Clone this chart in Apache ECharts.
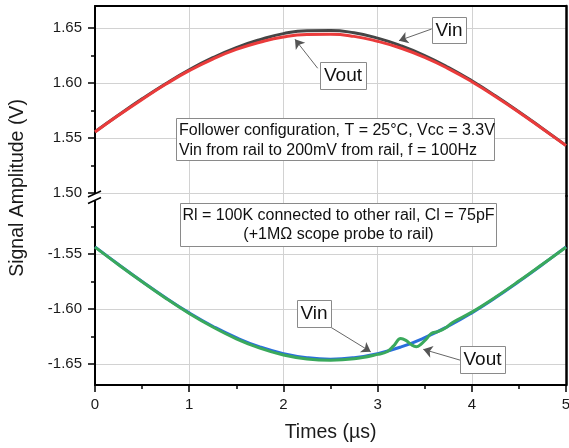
<!DOCTYPE html>
<html><head><meta charset="utf-8">
<script src="https://cdn.jsdelivr.net/npm/echarts@6/dist/echarts.min.js"></script>
<style>html,body{margin:0;padding:0;background:#fff}#c{width:569px;height:448px}</style>
</head><body><div id="c"></div>
<script>
// ---- data ----
const times = [0,0.25,0.5,0.75,1,1.25,1.5,1.75,2,2.25,2.5,2.75,3,3.25,3.5,3.75,4,4.25,4.5,4.75,5];
const upperVin  = [1.5557,1.5709,1.5856,1.5994,1.6120,1.6230,1.6322,1.6394,1.6449,1.6476,1.6478,1.6456,1.6408,1.6338,1.6250,1.6143,1.6020,1.5884,1.5739,1.5587,1.5433];
const upperVout = [1.5554,1.5706,1.5851,1.5988,1.6112,1.6218,1.6305,1.6371,1.6419,1.6441,1.6443,1.6424,1.6379,1.6316,1.6233,1.6131,1.6012,1.5878,1.5735,1.5584,1.5431];
const lowerVin  = [-1.5435,-1.5595,-1.5750,-1.5898,-1.6035,-1.6156,-1.6260,-1.6344,-1.6405,-1.6442,-1.6455,-1.6442,-1.6405,-1.6344,-1.6260,-1.6156,-1.6035,-1.5898,-1.5750,-1.5595,-1.5435];
const lowerVoutTimes = [0,0.25,0.5,0.75,1,1.25,1.5,1.75,2,2.25,2.5,2.75,3,3.1,3.17,3.245,3.3,3.36,3.41,3.46,3.52,3.57,3.64,3.72,3.8,4,4.25,4.5,4.75,5];
const lowerVout = [-1.5437,-1.5597,-1.5752,-1.5901,-1.6040,-1.6163,-1.6270,-1.6355,-1.6417,-1.6453,-1.6465,-1.6452,-1.6412,-1.6388,-1.6335,-1.6268,-1.6285,-1.6325,-1.6342,-1.6320,-1.6270,-1.6222,-1.6205,-1.6172,-1.6120,-1.6028,-1.5893,-1.5746,-1.5593,-1.5438];

const xTickValues = [0,1,2,3,4,5];
const upperYTicks = [1.50,1.55,1.60,1.65];
const upperYMinor = [1.525,1.575,1.625];
const lowerYTicks = [-1.65,-1.60,-1.55];
const lowerYMinor = [-1.625,-1.575,-1.525];
const upperRange = [1.4973, 1.67];
const lowerRange = [-1.669, -1.4973];

// annotation arrows: [startT, startV, tipT, tipV]
const arrowUpperVin  = [3.574, 1.6491, 3.227, 1.6385];
const arrowUpperVout = [2.364, 1.6134, 2.123, 1.6397];
const arrowLowerVin  = [2.495, -1.6161, 2.927, -1.6388];
const arrowLowerVout = [3.875, -1.6464, 3.485, -1.6366];

const infoLines1 = ['Follower configuration, T = 25°C, Vcc = 3.3V', 'Vin from rail to 200mV from rail, f = 100Hz'];
const infoLines2 = ['Rl = 100K connected to other rail, Cl = 75pF', '(+1MΩ scope probe to rail)'];

// ---- chart ----
const FONT = '"Liberation Sans", Arial, sans-serif';
const GRID_C = '#d2d2d2';
const chart = echarts.init(document.getElementById('c'), null, {renderer:'canvas'});

function arrowLine(a){
  return {
    silent:true, animation:false, symbol:['none','arrow'], symbolSize:9,
    label:{show:false},
    lineStyle:{color:'#555', width:0.9, type:'solid'},
    itemStyle:{color:'#111'},
    emphasis:{disabled:true},
    data:[[{coord:[a[0],a[1]]},{coord:[a[2],a[3]]}]]
  };
}
function mainY(grid, range, ticks){
  return {
    type:'value', gridIndex:grid, position:'left', min:range[0], max:range[1],
    axisLine:{show:true, onZero:false, lineStyle:{color:'#000', width:2}},
    axisTick:{show:true, length:7, customValues:ticks, lineStyle:{color:'#000', width:1.5}},
    axisLabel:{show:true, customValues:ticks, margin:13, fontSize:15, fontFamily:FONT, color:'#1a1a1a',
      formatter:v=>v.toFixed(2)},
    splitLine:{show:true, lineStyle:{color:GRID_C, width:1}}
  };
}
function minorY(grid, range, ticks){
  return {
    type:'value', gridIndex:grid, position:'left', min:range[0], max:range[1],
    axisLine:{show:false}, axisLabel:{show:false}, splitLine:{show:false},
    axisTick:{show:true, length:4, customValues:ticks, lineStyle:{color:'#000', width:1.5}}
  };
}
function rightY(grid, range){
  return {
    type:'value', gridIndex:grid, position:'right', min:range[0], max:range[1],
    axisLine:{show:true, onZero:false, lineStyle:{color:'#000', width:2.5}},
    axisTick:{show:false}, axisLabel:{show:false}, splitLine:{show:false}
  };
}
function boxText(x, y, w, h, text, size){
  return [
    {type:'rect', z:50, shape:{x:x+0.5, y:y+0.5, width:w, height:h}, style:{fill:'#fff', stroke:'#8a8a8a', lineWidth:1}},
    {type:'text', z:51, x:x+w/2, y:y+h/2+0.5, style:{text:text, fontSize:size, fontFamily:FONT, fill:'#111', align:'center', verticalAlign:'middle'}}
  ];
}

const option = {
  animation:false,
  backgroundColor:'#fff',
  grid:[
    {left:95, right:3, top:6, height:190, outerBoundsMode:'none', containLabel:false},
    {left:95, right:3, top:196, height:189, outerBoundsMode:'none', containLabel:false}
  ],
  xAxis:[
    {type:'value', gridIndex:0, position:'top', min:0, max:5, interval:1,
     axisLine:{show:true, onZero:false, lineStyle:{color:'#000', width:2}},
     axisTick:{show:false}, axisLabel:{show:false},
     splitLine:{show:true, lineStyle:{color:GRID_C, width:1}}},
    {type:'value', gridIndex:1, position:'bottom', min:0, max:5, interval:1,
     axisLine:{show:true, onZero:false, lineStyle:{color:'#000', width:2}},
     axisTick:{show:true, length:7, lineStyle:{color:'#000', width:1.5}},
     minorTick:{show:true, splitNumber:2, length:4, lineStyle:{color:'#000', width:1.5}},
     axisLabel:{show:true, margin:12, fontSize:15, fontFamily:FONT, color:'#1a1a1a'},
     splitLine:{show:true, lineStyle:{color:GRID_C, width:1}},
     name:'Times (µs)', nameLocation:'middle', nameGap:38,
     nameTextStyle:{fontSize:19.5, fontFamily:FONT, color:'#1a1a1a'}}
  ],
  yAxis:[
    mainY(0, upperRange, upperYTicks),
    minorY(0, upperRange, upperYMinor),
    rightY(0, upperRange),
    mainY(1, lowerRange, lowerYTicks),
    minorY(1, lowerRange, lowerYMinor),
    rightY(1, lowerRange)
  ],
  series:[
    {name:'Vin', type:'line', xAxisIndex:0, yAxisIndex:0, showSymbol:false, smooth:true,
     lineStyle:{color:'#454545', width:3}, itemStyle:{color:'#454545'},
     data:times.map((t,i)=>[t, upperVin[i]]), markLine:arrowLine(arrowUpperVin), z:2},
    {name:'Vout', type:'line', xAxisIndex:0, yAxisIndex:0, showSymbol:false, smooth:true,
     lineStyle:{color:'#ea3b3b', width:3}, itemStyle:{color:'#ea3b3b'},
     data:times.map((t,i)=>[t, upperVout[i]]), markLine:arrowLine(arrowUpperVout), z:3},
    {name:'Vin', type:'line', xAxisIndex:1, yAxisIndex:3, showSymbol:false, smooth:true,
     lineStyle:{color:'#2a6fdc', width:3}, itemStyle:{color:'#2a6fdc'},
     data:times.map((t,i)=>[t, lowerVin[i]]), markLine:arrowLine(arrowLowerVin), z:2},
    {name:'Vout', type:'line', xAxisIndex:1, yAxisIndex:3, showSymbol:false, smooth:0.4,
     lineStyle:{color:'#3aa95c', width:3}, itemStyle:{color:'#3aa95c'},
     data:lowerVoutTimes.map((t,i)=>[t, lowerVout[i]]), markLine:arrowLine(arrowLowerVout), z:3}
  ],
  graphic:[
    // axis break on the left axis
    {type:'rect', z:60, shape:{x:92, y:194, width:6, height:6.5}, style:{fill:'#fff'}},
    {type:'line', z:61, shape:{x1:88, y1:197, x2:101, y2:191}, style:{stroke:'#000', lineWidth:1.5}},
    {type:'line', z:61, shape:{x1:88, y1:203.5, x2:101, y2:197.5}, style:{stroke:'#000', lineWidth:1.5}},
    // y title
    {type:'text', z:61, x:18, y:188, rotation:Math.PI/2,
     style:{text:'Signal Amplitude (V)', fontSize:19.5, fontFamily:FONT, fill:'#1a1a1a', align:'center', verticalAlign:'middle'}},
    // info boxes
    {type:'rect', z:50, shape:{x:176.5, y:118.5, width:318, height:42}, style:{fill:'#fff', stroke:'#8a8a8a', lineWidth:1}},
    {type:'text', z:51, x:179, y:131, style:{text:infoLines1[0], fontSize:16, fontFamily:FONT, fill:'#111', align:'left', verticalAlign:'middle'}},
    {type:'text', z:51, x:179, y:150.5, style:{text:infoLines1[1], fontSize:16, fontFamily:FONT, fill:'#111', align:'left', verticalAlign:'middle'}},
    {type:'rect', z:50, shape:{x:180.5, y:203.5, width:316, height:43}, style:{fill:'#fff', stroke:'#8a8a8a', lineWidth:1}},
    {type:'text', z:51, x:338.5, y:215.5, style:{text:infoLines2[0], fontSize:16, fontFamily:FONT, fill:'#111', align:'center', verticalAlign:'middle'}},
    {type:'text', z:51, x:338.5, y:235, style:{text:infoLines2[1], fontSize:16, fontFamily:FONT, fill:'#111', align:'center', verticalAlign:'middle'}},
    ...boxText(432, 17, 34, 26, 'Vin', 19),
    ...boxText(320, 62, 46, 27, 'Vout', 19),
    ...boxText(297, 300, 34, 27, 'Vin', 19),
    ...boxText(460, 346, 45, 27, 'Vout', 19)
  ]
};
chart.setOption(option);
</script>
</body></html>
